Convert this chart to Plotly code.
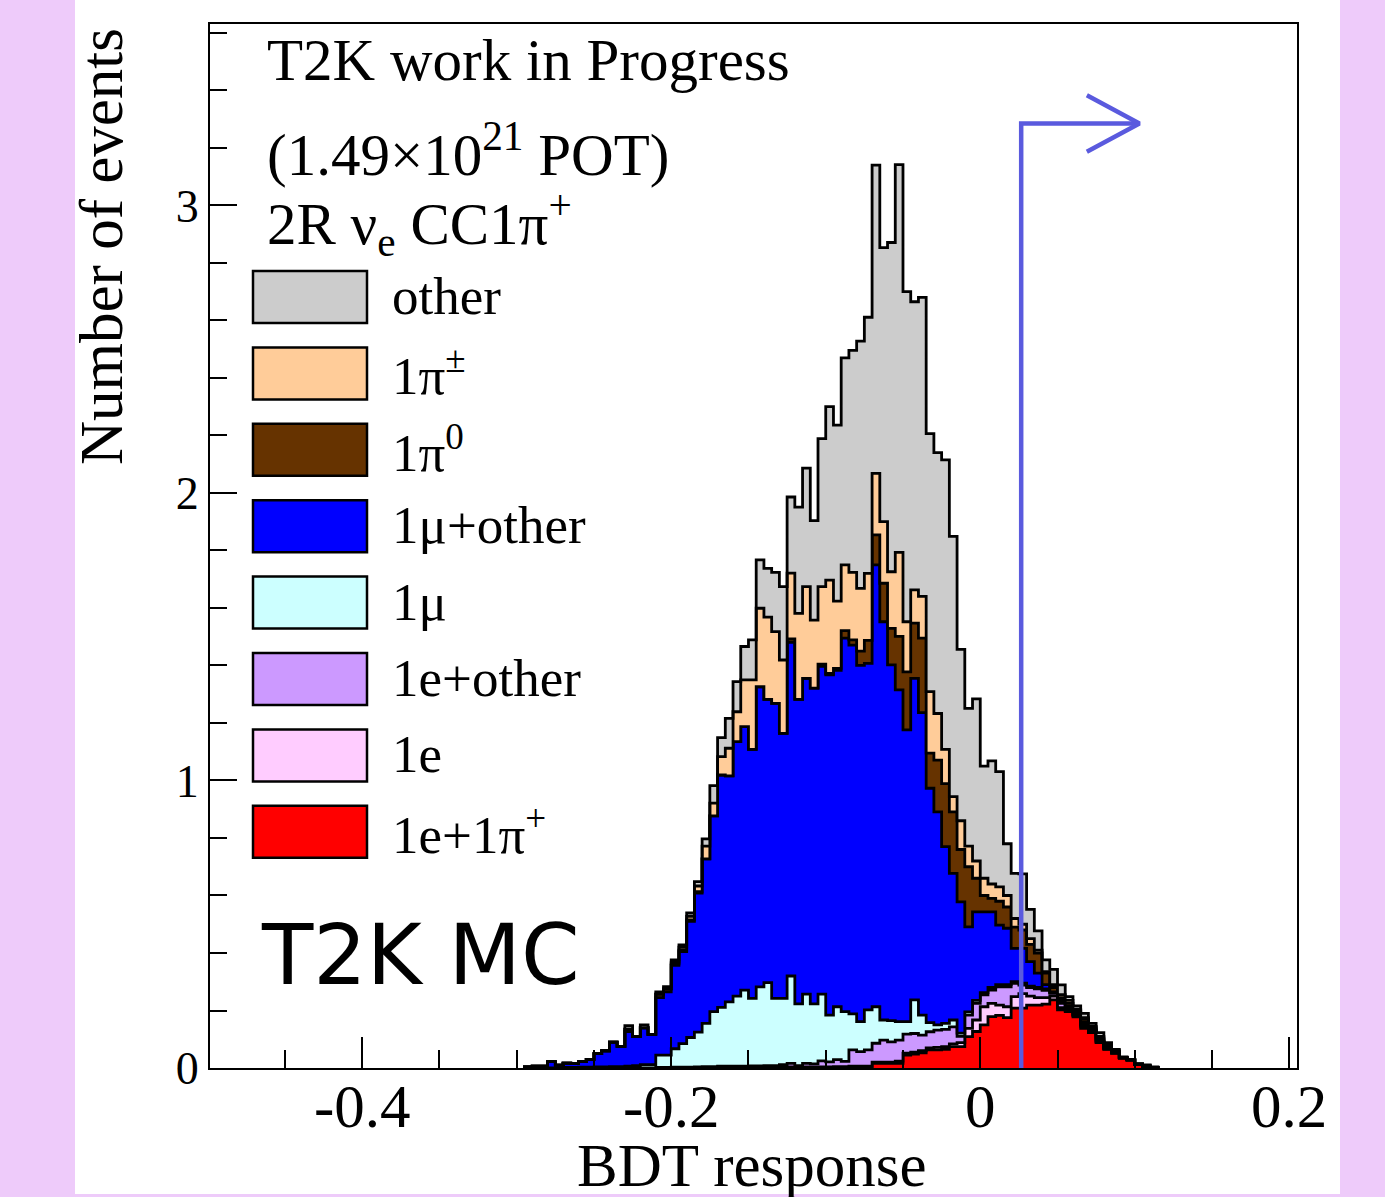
import plotly.graph_objects as go

# ---------------- data (bins of width 0.005, first left edge -0.295) ----------------
BIN_LO = -0.295
BIN_W = 0.005

e_pi = [0,0,0,0,0,0,0,0,0,0,
        0,0,0,0,0,0,0,0,0,0,
        0,0,0,0,0,0,0,0,0,0,
        0,0,0,.002,.002,.002,.002,.002,.002,.002,
        .003,.003,.003,.003,.003,.016,.016,.016,.016,.045,
        .048,.053,.063,.063,.065,.074,.074,.109,.127,.15,
        .179,.183,.175,.208,.208,.219,.219,.222,.237,.202,
        .196,.178,.138,.123,.088,.065,.051,.034,.028,.013,
        .006,.002]
e_only = [0,0,0,0,0,0,0,0,0,0,
          0,0,0,0,0,0,0,0,0,0,
          0,0,0,0,0,0,0,0,0,0,
          0,0,0,.002,.002,.002,.002,.002,.002,.002,
          .002,.002,.003,.003,.003,.004,.004,.004,.008,.007,
          .007,.007,.007,.009,.009,.01,.014,.029,.04,.063,
          .046,.036,.038,.04,.051,.031,.026,.023,.013,.008,
          .004,.004,.007,.003,.002,.001,.001,0,0,0,
          0,0]
e_other = [0,0,0,0,0,0,0,0,0,0,
           0,0,0,0,0,0,0,.002,.002,.003,
           .003,.003,.004,.005,.005,.006,.006,.006,.006,.007,
           .007,.008,.008,.008,.012,.004,.012,.01,.021,.017,
           .024,.018,.057,.051,.057,.066,.077,.071,.073,.066,
           .065,.054,.056,.06,.06,.059,.022,.046,.058,.041,
           .046,.063,.069,.046,.029,.03,.03,.025,.01,.015,
           .005,.003,.005,.004,.003,.002,.002,.001,0,0,
           0,0]
mu_only = [0,0,0,0,0,.002,.002,.003,.003,.004,
           .004,.005,.005,.006,.008,.012,.012,.043,.043,.064,
           .082,.103,.121,.15,.191,.205,.224,.244,.265,.235,
           .275,.289,.234,.23,.304,.215,.241,.209,.232,.163,
           .184,.173,.125,.104,.139,.127,.07,.074,.064,.043,
           .117,.07,.032,.018,.021,.024,.011,.011,.01,.008,
           .009,.008,.008,.006,.007,.005,.005,.005,.002,.003,
           .002,.002,.002,.001,.001,.001,.001,0,0,0,
           0,0]
mu_other = [.004,.006,.006,.022,.01,.015,.013,.019,.027,.046,
            .056,.085,.07,.121,.102,.128,.105,.2,.22,.29,
            .32,.404,.483,.572,.681,.808,.786,.885,.916,.866,
            1.044,.985,1.026,.922,1.16,1.059,1.098,1.098,1.14,1.183,
            1.17,1.299,1.283,1.239,1.205,1.537,1.385,1.237,1.154,1.015,
            1.118,1.052,.815,.741,.615,.51,.457,.296,.308,.281,
            .263,.207,.196,.116,.121,.085,.05,.015,.003,.007,
            .008,.008,.008,.004,.006,.003,.001,.001,0,0,
            0,0]
pi0 = [0,0,0,0,0,0,0,0,0,0,
       0,0,0,.008,0,0,0,.012,.01,.005,
       .005,.005,.005,0,0,0,0,0,0,0,
       0,0,0,0,.012,0,0,0,.008,.005,
       .007,.026,.018,.05,.08,.104,.134,.127,.186,.202,
       .192,.259,.122,.18,.219,.214,.182,.209,.117,.057,
       .047,.083,.074,.074,.064,.06,.07,.04,.015,.01,
       .01,.005,.01,.005,.005,.004,.002,.001,0,0,
       0,0]
pi_pm = [0,0,0,0,0,0,0,0,0,0,
         0,0,0,0,0,0,0,0,0,.006,
         .01,.012,.02,.045,.044,.064,.096,.104,.163,.242,
         .273,.286,.25,.255,.229,.299,.319,.237,.269,.325,
         .234,.229,.235,.218,.233,.214,.214,.197,.292,.174,
         .116,.145,.214,.162,.119,.053,.1,.072,.06,.06,
         .05,.05,.04,.03,.02,.02,.01,.005,.01,.01,
         .01,.005,.005,.005,.005,.004,.002,0,0,0,
         0,0]
other = [0,0,0,0,0,0,0,0,0,0,
         0,0,0,.012,0,.01,0,.008,.008,.008,
         .008,.012,.015,.025,.061,.066,.104,.105,.116,.139,
         .168,.17,.206,.255,.265,.37,.412,.346,.515,.603,
         .612,.72,.772,.86,.891,1.072,.953,1.145,1.349,1.148,
         1.002,1.04,.897,.907,1.007,.905,.596,.479,.564,.39,
         .428,.401,.18,.157,.175,.102,.067,.041,.053,.034,
         .013,.011,.015,.01,.013,.008,.005,.002,0,0,
         .005,.002]

# stacking order bottom -> top
series = [
    ("1e+1π<sup>+</sup>", e_pi, "#ff0000"),
    ("1e", e_only, "#ffccff"),
    ("1e+other", e_other, "#cc99ff"),
    ("1μ", mu_only, "#ccffff"),
    ("1μ+other", mu_other, "#0000ff"),
    ("1π<sup>0</sup>", pi0, "#663300"),
    ("1π<sup>±</sup>", pi_pm, "#ffcc99"),
    ("other", other, "#cccccc"),
]

BDT_CUT = 0.0265
ARROW_Y = 3.285
ARROW_END = 0.103

x_tickvals = [-0.4, -0.2, 0, 0.2]
x_ticktext = ["-0.4", "-0.2", "0", "0.2"]
x_minor = [-0.45, -0.35, -0.3, -0.25, -0.15, -0.1, -0.05, 0.05, 0.1, 0.15]

# ---------------- geometry ----------------
W, H = 1385, 1197
L, R, T, B = 210, 88, 24, 129
PW, PH = W - L - R, H - T - B


def pxx(x):
    return (x - L) / PW


def pxy(y):
    return (H - B - y) / PH


n = len(other)
edges = [round(BIN_LO + i * BIN_W, 4) for i in range(n + 1)]
xs = [edges[0]] + edges[:-1] + [edges[-1], edges[-1]]

fig = go.Figure()
for name, vals, col in series:
    ys = [0] + list(vals) + [vals[-1], 0]
    fig.add_trace(go.Scatter(
        x=xs, y=ys, mode="lines", line=dict(shape="hv", color="black", width=2.8),
        stackgroup="one", fillcolor=col, name=name, showlegend=False,
        hoverinfo="skip"))

arrow_col = "#5a5ade"
fig.add_trace(go.Scatter(x=[BDT_CUT, BDT_CUT, ARROW_END], y=[0, ARROW_Y, ARROW_Y],
                         mode="lines", line=dict(color=arrow_col, width=4.5),
                         showlegend=False, hoverinfo="skip"))
fig.add_trace(go.Scatter(x=[ARROW_END - 0.034, ARROW_END, ARROW_END - 0.034],
                         y=[ARROW_Y + 0.0985, ARROW_Y, ARROW_Y - 0.0985],
                         mode="lines", line=dict(color=arrow_col, width=4.5),
                         showlegend=False, hoverinfo="skip"))

serif = "Liberation Serif"
shapes = [dict(type="rect", xref="paper", yref="paper", x0=pxx(75), x1=pxx(1340),
               y0=pxy(1194), y1=pxy(0), fillcolor="white", line=dict(width=0),
               layer="below")]
annotations = []

# legend (top entry = other)
for i, (name, vals, col) in enumerate(reversed(series)):
    y0 = 271 + 76.4 * i
    shapes.append(dict(type="rect", xref="paper", yref="paper",
                       x0=pxx(253), x1=pxx(367), y0=pxy(y0 + 52), y1=pxy(y0),
                       fillcolor=col, line=dict(color="black", width=2.5)))
    annotations.append(dict(xref="paper", yref="paper", x=pxx(390), y=pxy(y0 + 25),
                            xanchor="left", yanchor="middle", showarrow=False,
                            text=name, font=dict(family=serif, size=53, color="black")))

for txt, yc in [("T2K work in Progress", 60),
                ("(1.49×10<sup>21</sup> POT)", 150),
                ("2R ν<sub>e</sub> CC1π<sup>+</sup>", 224)]:
    annotations.append(dict(xref="paper", yref="paper", x=pxx(265), y=pxy(yc),
                            xanchor="left", yanchor="middle", showarrow=False,
                            text=txt, font=dict(family=serif, size=59, color="black")))

annotations.append(dict(xref="paper", yref="paper", x=pxx(259), y=pxy(955),
                        xanchor="left", yanchor="middle", showarrow=False,
                        text="T2K MC", font=dict(family="DejaVu Sans", size=84, color="black")))

annotations.append(dict(xref="paper", yref="paper", x=pxx(752), y=pxy(1165),
                        xanchor="center", yanchor="middle", showarrow=False,
                        text="BDT response", font=dict(family=serif, size=61, color="black")))
annotations.append(dict(xref="paper", yref="paper", x=pxx(101), y=pxy(247),
                        xanchor="center", yanchor="middle", showarrow=False, textangle=-90,
                        text="Number of events", font=dict(family=serif, size=61, color="black")))

# x tick labels (ROOT-style hyphen minus)
for v, t in zip(x_tickvals, x_ticktext):
    annotations.append(dict(xref="x", yref="paper", x=v, y=pxy(1106),
                            xanchor="center", yanchor="middle", showarrow=False,
                            text=t, font=dict(family=serif, size=61, color="black")))

fig.update_layout(
    width=W, height=H, margin=dict(l=L, r=R, t=T, b=B, pad=0),
    paper_bgcolor="#eecbfa", plot_bgcolor="white",
    shapes=shapes, annotations=annotations, showlegend=False,
    xaxis=dict(range=[-0.4985, 0.205], showgrid=False, zeroline=False,
               showline=True, mirror=True, linecolor="black", linewidth=2,
               ticks="inside", ticklen=31, tickwidth=2, tickcolor="black",
               tickmode="array", tickvals=x_tickvals, showticklabels=False,
               minor=dict(tickmode="array", tickvals=x_minor, ticks="inside",
                          ticklen=18, tickwidth=2, tickcolor="black", showgrid=False),
               automargin=False, layer="above traces"),
    yaxis=dict(range=[0, 3.631], showgrid=False, zeroline=False,
               showline=True, mirror=True, linecolor="black", linewidth=2,
               ticks="inside", ticklen=27, tickwidth=2, tickcolor="black",
               tickmode="linear", tick0=0, dtick=1,
               tickfont=dict(family=serif, size=46, color="black"),
               minor=dict(dtick=0.2, tick0=0, ticks="inside", ticklen=17,
                          tickwidth=2, tickcolor="black", showgrid=False),
               automargin=False, layer="above traces"),
)

fig.write_html("out.html", config={"displayModeBar": False},
               post_script="document.body.style.margin='0';document.body.style.overflow='hidden';")
